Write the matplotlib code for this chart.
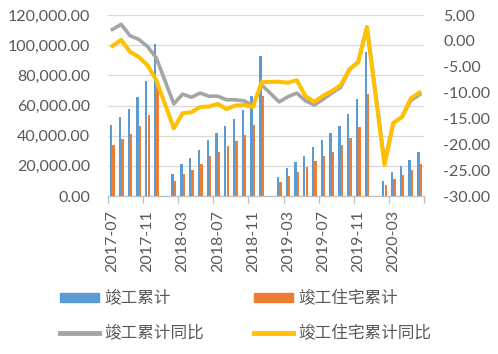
import numpy as np
import matplotlib
matplotlib.use("Agg")
import matplotlib.pyplot as plt
from matplotlib.patches import Patch
from matplotlib.lines import Line2D

nan = np.nan
months = ([f"2017-{m:02d}" for m in range(7, 13)] + [f"2018-{m:02d}" for m in range(1, 13)]
          + [f"2019-{m:02d}" for m in range(1, 13)] + [f"2020-{m:02d}" for m in range(1, 7)])

completed = [47300, 52400, 57500, 65800, 76000, 101100,
             nan, 14400, 21100, 25100, 30700, 37100, 42000, 46200, 51100, 57100, 66400, 92900,
             nan, 12700, 18400, 22400, 26700, 32700, 37300, 41500, 46700, 54500, 64000, 95800,
             nan, 10000, 15800, 19600, 24000, 29100]
residential = [33800, 37500, 41300, 46400, 54000, 72000,
               nan, 10000, 14400, 17300, 21300, 26200, 29500, 32900, 36200, 40700, 47100, 66000,
               nan, 9300, 13300, 16000, 18900, 23100, 26700, 29500, 33500, 38400, 45500, 67800,
               nan, 7100, 11300, 14000, 17300, 21100]
completed_yoy = [2.2, 3.2, 1.0, 0.3, -1.1, -3.3,
                 nan, -12.2, -10.3, -10.9, -10.1, -10.7, -10.7, -11.4, -11.4, -11.6, -12.5, -8.5,
                 nan, -11.8, -10.8, -10.1, -11.6, -12.4, -11.3, -10.1, -9.0, -5.6, -4.0, 2.7,
                 nan, -23.5, -15.9, -14.7, -11.5, -10.4]
residential_yoy = [-1.0, 0.2, -2.1, -3.1, -4.7, -7.6,
                   nan, -16.9, -14.0, -13.8, -12.8, -12.7, -12.2, -13.2, -12.5, -12.4, -12.8, -8.0,
                   nan, -7.9, -8.1, -7.6, -10.7, -11.8, -10.6, -9.7, -8.6, -5.5, -4.2, 2.6,
                   nan, -24.0, -15.9, -14.7, -11.1, -10.0]

labels = ["竣工累计", "竣工住宅累计", "竣工累计同比", "竣工住宅累计同比"]
c_blue, c_orange, c_gray, c_yellow = "#5B9BD5", "#ED7D31", "#A5A5A5", "#FFC000"
txt = "#595959"
num_font = "Lato"
cjk = ["Noto Sans CJK SC", "DejaVu Sans"]

W, H = 498, 354
fig = plt.figure(figsize=(W / 100, H / 100), dpi=100)
ax = fig.add_axes([108 / W, 1 - 196 / H, 316 / W, 181 / H])
ax2 = ax.twinx()

x = np.arange(len(months))
ax.bar(x - 0.14, completed, width=0.27, color=c_blue, zorder=2)
ax.bar(x + 0.14, residential, width=0.27, color=c_orange, zorder=2)

cy = np.array(completed_yoy)
ry = np.array(residential_yoy)
m1 = ~np.isnan(cy)
m2 = ~np.isnan(ry)
ax2.plot(x[m1], cy[m1], color=c_gray, lw=2.6, solid_joinstyle="round", zorder=3)
ax2.plot(x[m2], ry[m2], color=c_yellow, lw=2.9, solid_joinstyle="round", zorder=4)

ax.set_xlim(-0.5, len(months) - 0.5)
ax.set_ylim(0, 120000)
ax2.set_ylim(-30, 5)
ax.set_yticks(np.arange(0, 120001, 20000))
ax.set_yticklabels([f"{v:,.2f}" for v in np.arange(0, 120001, 20000)],
                   fontfamily=num_font, fontsize=11.5, color=txt)
ax2.set_yticks(np.arange(-30, 5.1, 5))
ax2.set_yticklabels([f"{v:.2f}" for v in np.arange(-30, 5.1, 5)],
                    fontfamily=num_font, fontsize=11.5, color=txt)
ax.tick_params(axis="y", length=0, pad=13)
ax2.tick_params(axis="y", length=0, pad=14)
ax.yaxis.grid(True, color="#D9D9D9", lw=0.9, zorder=0)
ax.set_axisbelow(True)

ax.set_xticks(np.arange(-0.5, len(months), 4))
ax.set_xticklabels([])
ax.tick_params(axis="x", which="major", length=5, color="#BFBFBF", width=0.9)
ax.set_xticks(np.arange(0, len(months), 4), minor=True)
ax.set_xticklabels([months[i] for i in range(0, len(months), 4)], minor=True,
                   rotation=90, fontfamily=num_font, fontsize=11.5, color=txt)
ax.tick_params(axis="x", which="minor", length=0, pad=10)

for a in (ax, ax2):
    for s in a.spines.values():
        s.set_visible(False)
ax.spines["bottom"].set_visible(True)
ax.spines["bottom"].set_color("#BFBFBF")
ax.spines["bottom"].set_linewidth(0.9)

h_blue = Patch(color=c_blue)
h_orange = Patch(color=c_orange)
h_gray = Line2D([], [], color=c_gray, lw=3.5)
h_yellow = Line2D([], [], color=c_yellow, lw=3.5)
# column-major fill: column 1 = blue, gray; column 2 = orange, yellow
handles = [h_blue, h_gray, h_orange, h_yellow]
order_labels = [labels[0], labels[2], labels[1], labels[3]]
fig.legend(handles, order_labels, loc="center", bbox_to_anchor=(246 / W, 1 - 316 / H), ncol=2,
           frameon=False, prop={"family": cjk, "size": 12}, labelcolor=txt,
           handlelength=2.3, handleheight=0.4, handletextpad=0.35, columnspacing=3.0,
           labelspacing=1.05)

fig.savefig("out.png", dpi=100)
